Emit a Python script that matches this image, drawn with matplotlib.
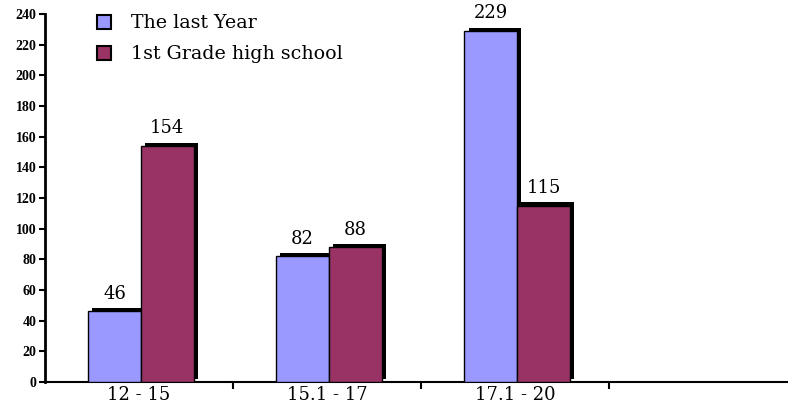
import matplotlib
matplotlib.use("Agg")
import matplotlib.pyplot as plt
import matplotlib.patheffects as pe
from matplotlib.patches import Patch
import numpy as np

categories = ["12 - 15", "15.1 - 17", "17.1 - 20"]
last_year = [46, 82, 229]
first_grade = [154, 88, 115]
series_names = ["The last Year", "1st Grade high school"]
colors = ["#9999FF", "#993366"]

plt.rcParams['font.family'] = ['DejaVu Serif']

fig = plt.figure(figsize=(7.88, 4.08), dpi=100)
ax = fig.add_axes([0.057, 0.064, 0.943, 0.902])

x = np.arange(len(categories))
w = 0.28
shadow = [pe.SimplePatchShadow(offset=(3, 2.3), shadow_rgbFace='black', alpha=1), pe.Normal()]

for i, (vals, c) in enumerate(zip([last_year, first_grade], colors)):
    pos = x - w / 2 + i * w + 0.01
    bars = ax.bar(pos, vals, width=w, color=c, edgecolor='black', linewidth=1, zorder=3)
    for b, v in zip(bars, vals):
        b.set_path_effects(shadow)
        ax.annotate(str(v), (b.get_x() + b.get_width() / 2, v), xytext=(0, 6),
                    textcoords='offset points', ha='center', va='bottom', fontsize=13)

ax.set_xlim(-0.5, 3.45)
ax.set_ylim(0, 240)
ax.set_yticks(range(0, 241, 20))
ax.set_xticks(x)
ax.set_xticklabels(categories, fontsize=13)
ax.set_xticks([0.5, 1.5, 2.5], minor=True)
ax.tick_params(axis='x', which='major', length=0, pad=3)
ax.tick_params(axis='x', which='minor', length=5, width=1.5, direction='out')
ax.tick_params(axis='y', length=4, width=1.5, labelsize=10, pad=2)
for lab in ax.get_yticklabels():
    lab.set_fontfamily('Liberation Serif')
    lab.set_fontweight('bold')

for s in ['top', 'right']:
    ax.spines[s].set_visible(False)
ax.spines['left'].set_linewidth(2)
ax.spines['bottom'].set_linewidth(1.5)

handles = [Patch(facecolor=c, edgecolor='black', linewidth=1.5) for c in colors]
ax.legend(handles, series_names, loc='upper left', bbox_to_anchor=(0.047, 1.045),
          frameon=False, fontsize=13.7, handlelength=0.75, handleheight=0.75,
          handletextpad=1.05, labelspacing=0.68)

fig.savefig("out.png", dpi=100)
